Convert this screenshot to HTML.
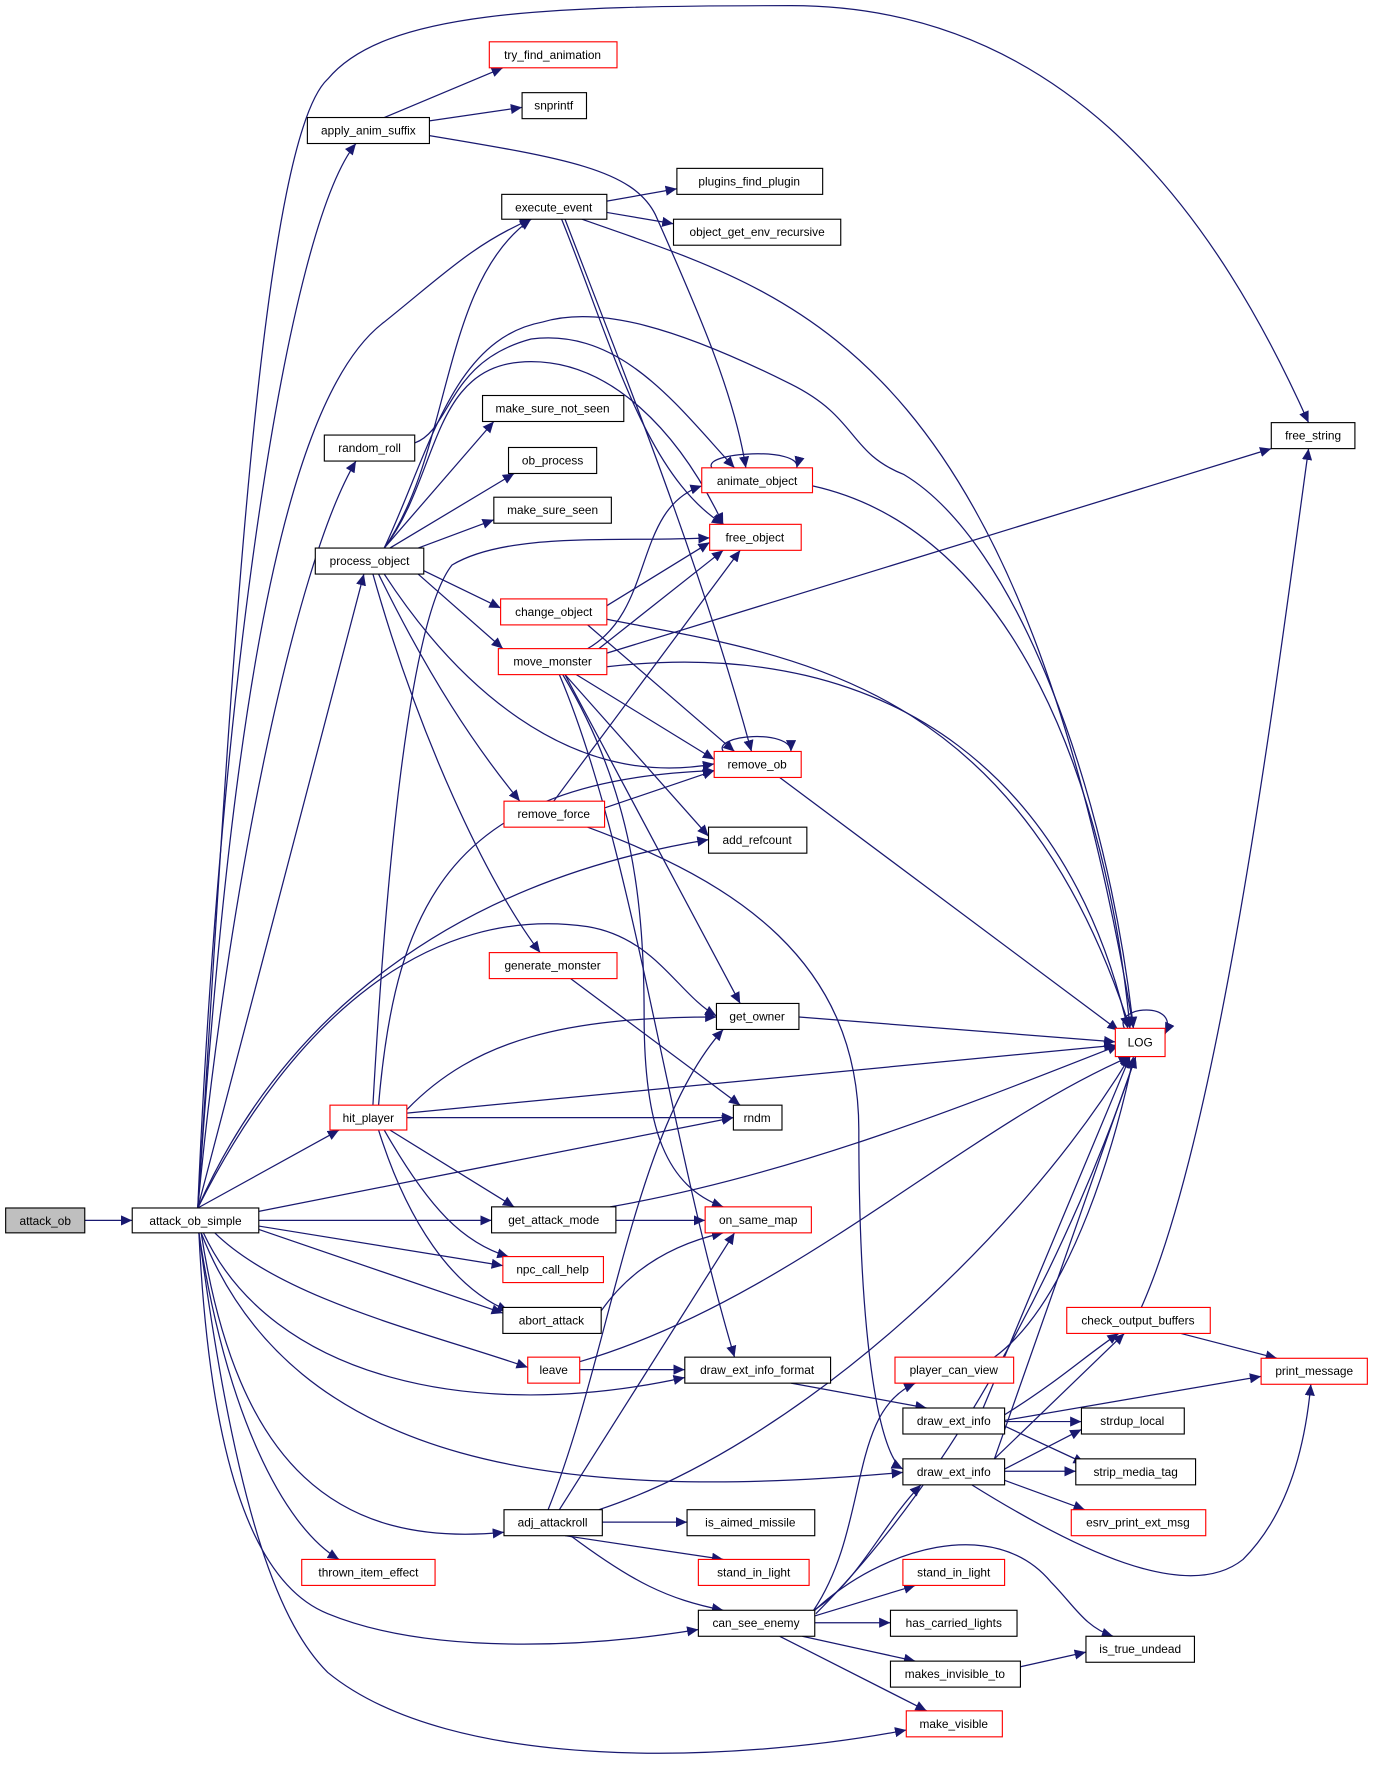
<!DOCTYPE html>
<html><head><meta charset="utf-8"><style>
html,body{margin:0;padding:0;background:#fff;}
svg{display:block;}
text{font-family:"Liberation Sans",Arial,sans-serif;font-size:10.5px;text-anchor:middle;fill:#000;}
.e{fill:none;stroke:#191970;stroke-width:1.1;marker-end:url(#a);}
.n{fill:#fff;stroke:#000;stroke-width:1;}
.r{fill:#fff;stroke:#ff0000;stroke-width:1;}
</style></head><body>
<svg width="1373" height="1773" viewBox="0 0 1215 1569" xmlns="http://www.w3.org/2000/svg">
<defs><marker id="a" markerUnits="userSpaceOnUse" markerWidth="11" markerHeight="9" refX="10" refY="4.5" orient="auto"><path d="M0,0 L10,4.5 L0,9 Z" fill="#191970"/></marker></defs>
<g>
<path class="e" d="M75,1080 L117,1080"/>
<path class="e" d="M175,1069 C200,700 225,130 290,70 C340,10 480,5 700,5 C950,5 1080,200 1158,374"/>
<path class="e" d="M175,1069 C195,600 255,200 315,127"/>
<path class="e" d="M175,1069 C200,700 240,360 340,285 C390,245 420,215 470,194"/>
<path class="e" d="M175,1069 C200,800 260,500 315,408"/>
<path class="e" d="M175,1069 L322,508"/>
<path class="e" d="M175,1069 C250,900 400,780 627,743"/>
<path class="e" d="M175,1069 C260,900 380,800 520,820 C580,830 600,880 634,899"/>
<path class="e" d="M175,1069 L300,1000"/>
<path class="e" d="M229,1072 L649,989"/>
<path class="e" d="M229,1080 L435,1080"/>
<path class="e" d="M229,1085 L445,1120"/>
<path class="e" d="M229,1088 L445,1162"/>
<path class="e" d="M190,1091 C250,1150 380,1180 467,1210"/>
<path class="e" d="M180,1091 C240,1220 420,1260 606,1219"/>
<path class="e" d="M178,1091 C260,1300 500,1330 799,1303"/>
<path class="e" d="M178,1091 C210,1300 300,1370 446,1356"/>
<path class="e" d="M176,1091 C200,1250 250,1350 300,1380"/>
<path class="e" d="M176,1091 C185,1280 220,1400 290,1428 C380,1465 520,1458 618,1442"/>
<path class="e" d="M176,1091 C210,1350 250,1440 290,1480 C400,1570 650,1560 802,1531"/>
<path class="e" d="M340,104 L445,60"/>
<path class="e" d="M380,107 L462,95"/>
<path class="e" d="M380,120 C500,140 560,150 580,190 C620,280 650,350 660,414"/>
<path class="e" d="M537,178 L599,167"/>
<path class="e" d="M537,188 L596,198"/>
<path class="e" d="M515,194 C700,260 900,300 1003,910"/>
<path class="e" d="M497,194 C540,300 570,420 640,464"/>
<path class="e" d="M500,194 C560,350 620,500 665,665"/>
<path class="e" d="M367,392 C400,380 395,320 470,300 C550,290 600,360 650,414"/>
<path class="e" d="M340,485 C400,400 390,250 470,194"/>
<path class="e" d="M340,485 C380,400 400,300 480,285 C530,270 600,290 700,340 C760,370 750,400 800,420 C900,480 980,700 1003,910"/>
<path class="e" d="M340,485 C390,420 380,320 470,320 C540,320 600,380 640,464"/>
<path class="e" d="M340,485 L437,373"/>
<path class="e" d="M345,485 L455,419"/>
<path class="e" d="M370,485 L437,460"/>
<path class="e" d="M375,505 L443,538"/>
<path class="e" d="M370,508 L445,574"/>
<path class="e" d="M340,508 C400,600 500,700 632,676"/>
<path class="e" d="M335,508 C380,600 420,660 460,709"/>
<path class="e" d="M330,508 C370,650 430,780 478,843"/>
<path class="e" d="M537,536 L628,480"/>
<path class="e" d="M520,553 L650,665"/>
<path class="e" d="M537,548 C700,580 900,600 1000,910"/>
<path class="e" d="M520,574 C580,540 560,450 621,430"/>
<path class="e" d="M530,574 L640,487"/>
<path class="e" d="M537,578 L1125,397"/>
<path class="e" d="M537,590 C800,560 950,700 998,910"/>
<path class="e" d="M510,597 L632,672"/>
<path class="e" d="M500,597 L627,740"/>
<path class="e" d="M500,597 L655,888"/>
<path class="e" d="M498,597 C560,700 570,800 570,900 C570,1000 590,1050 640,1068"/>
<path class="e" d="M495,597 C560,750 590,1000 650,1201"/>
<path class="e" d="M490,709 L655,487"/>
<path class="e" d="M535,715 L632,682"/>
<path class="e" d="M520,732 C650,780 760,850 760,1000 C760,1200 780,1290 799,1300"/>
<path class="e" d="M640,665 C630,650 700,645 700,665"/>
<path class="e" d="M690,688 L990,912"/>
<path class="e" d="M630,414 C620,400 710,395 705,414"/>
<path class="e" d="M719,430 C900,470 980,700 1000,910"/>
<path class="e" d="M505,866 L655,978"/>
<path class="e" d="M707,900 L987,922"/>
<path class="e" d="M330,978 C340,800 360,550 400,500 C450,470 550,480 628,476"/>
<path class="e" d="M335,978 C350,800 400,690 632,682"/>
<path class="e" d="M360,982 C420,920 500,900 634,900"/>
<path class="e" d="M360,985 L987,925"/>
<path class="e" d="M360,989 L649,989"/>
<path class="e" d="M345,1000 L455,1068"/>
<path class="e" d="M340,1000 C380,1070 410,1100 450,1112"/>
<path class="e" d="M335,1000 C360,1080 400,1140 450,1160"/>
<path class="e" d="M545,1080 L624,1080"/>
<path class="e" d="M540,1068 C700,1040 850,980 990,925"/>
<path class="e" d="M532,1160 C560,1120 600,1100 640,1091"/>
<path class="e" d="M513,1212 L606,1212"/>
<path class="e" d="M513,1205 C700,1150 850,1000 1000,935"/>
<path class="e" d="M700,1224 L820,1246"/>
<path class="e" d="M880,1201 C950,1150 990,1000 1003,935"/>
<path class="e" d="M889,1252 C940,1220 960,1200 990,1180"/>
<path class="e" d="M889,1257 L1116,1218"/>
<path class="e" d="M889,1258 L957,1258"/>
<path class="e" d="M870,1246 L1000,935"/>
<path class="e" d="M889,1262 L960,1295"/>
<path class="e" d="M880,1291 L1005,935"/>
<path class="e" d="M880,1291 L995,1180"/>
<path class="e" d="M889,1300 L957,1265"/>
<path class="e" d="M889,1302 L952,1302"/>
<path class="e" d="M889,1310 L960,1336"/>
<path class="e" d="M860,1314 C950,1370 1050,1420 1100,1380 C1140,1340 1155,1280 1160,1225"/>
<path class="e" d="M1010,1157 C1080,1000 1130,600 1158,397"/>
<path class="e" d="M1045,1180 L1130,1202"/>
<path class="e" d="M485,1336 C540,1200 560,1000 640,911"/>
<path class="e" d="M495,1336 L650,1091"/>
<path class="e" d="M530,1336 C700,1280 900,1100 1000,935"/>
<path class="e" d="M533,1347 L608,1347"/>
<path class="e" d="M500,1359 L640,1380"/>
<path class="e" d="M505,1359 C560,1400 590,1415 640,1425"/>
<path class="e" d="M720,1425 C760,1400 780,1350 815,1314"/>
<path class="e" d="M720,1425 C770,1350 750,1250 810,1224"/>
<path class="e" d="M722,1428 C850,1300 950,1100 1005,935"/>
<path class="e" d="M721,1430 L810,1403"/>
<path class="e" d="M721,1436 L788,1436"/>
<path class="e" d="M710,1448 L810,1470"/>
<path class="e" d="M690,1448 L820,1514"/>
<path class="e" d="M721,1425 C780,1370 880,1340 930,1400 C950,1420 960,1440 985,1448"/>
<path class="e" d="M903,1475 L961,1462"/>
<path class="e" d="M995,910 C985,890 1045,885 1031,915"/>
</g>
<g>
<rect x="5" y="1069" width="70" height="22" fill="#bfbfbf" stroke="#000"/><text x="40" y="1084">attack_ob</text>
<rect class="n" x="117" y="1069" width="112" height="22"/><text x="173" y="1084">attack_ob_simple</text>
<rect class="r" x="433" y="37" width="113" height="23"/><text x="489" y="52">try_find_animation</text>
<rect class="n" x="462" y="82" width="57" height="23"/><text x="490" y="97">snprintf</text>
<rect class="n" x="272" y="104" width="108" height="23"/><text x="326" y="119">apply_anim_suffix</text>
<rect class="n" x="599" y="149" width="129" height="23"/><text x="663" y="164">plugins_find_plugin</text>
<rect class="n" x="444" y="172" width="93" height="22"/><text x="490" y="187">execute_event</text>
<rect class="n" x="596" y="194" width="148" height="23"/><text x="670" y="209">object_get_env_recursive</text>
<rect class="n" x="427" y="350" width="125" height="23"/><text x="489" y="365">make_sure_not_seen</text>
<rect class="n" x="287" y="385" width="80" height="23"/><text x="327" y="400">random_roll</text>
<rect class="n" x="450" y="396" width="78" height="23"/><text x="489" y="411">ob_process</text>
<rect class="n" x="1125" y="374" width="74" height="23"/><text x="1162" y="389">free_string</text>
<rect class="r" x="621" y="414" width="98" height="22"/><text x="670" y="429">animate_object</text>
<rect class="n" x="437" y="440" width="104" height="23"/><text x="489" y="455">make_sure_seen</text>
<rect class="r" x="628" y="464" width="81" height="23"/><text x="668" y="479">free_object</text>
<rect class="n" x="279" y="485" width="96" height="23"/><text x="327" y="500">process_object</text>
<rect class="r" x="443" y="530" width="94" height="23"/><text x="490" y="545">change_object</text>
<rect class="r" x="441" y="574" width="96" height="23"/><text x="489" y="589">move_monster</text>
<rect class="r" x="632" y="665" width="77" height="23"/><text x="670" y="680">remove_ob</text>
<rect class="r" x="446" y="709" width="89" height="23"/><text x="490" y="724">remove_force</text>
<rect class="n" x="627" y="732" width="87" height="23"/><text x="670" y="747">add_refcount</text>
<rect class="r" x="433" y="843" width="113" height="23"/><text x="489" y="858">generate_monster</text>
<rect class="n" x="634" y="888" width="73" height="23"/><text x="670" y="903">get_owner</text>
<rect class="r" x="987" y="910" width="44" height="25"/><text x="1009" y="926">LOG</text>
<rect class="r" x="292" y="978" width="68" height="22"/><text x="326" y="993">hit_player</text>
<rect class="n" x="649" y="978" width="43" height="22"/><text x="670" y="993">rndm</text>
<rect class="n" x="435" y="1068" width="110" height="23"/><text x="490" y="1083">get_attack_mode</text>
<rect class="r" x="624" y="1068" width="94" height="23"/><text x="671" y="1083">on_same_map</text>
<rect class="r" x="445" y="1112" width="89" height="23"/><text x="489" y="1127">npc_call_help</text>
<rect class="n" x="445" y="1157" width="87" height="23"/><text x="488" y="1172">abort_attack</text>
<rect class="r" x="944" y="1157" width="127" height="23"/><text x="1007" y="1172">check_output_buffers</text>
<rect class="r" x="467" y="1201" width="46" height="23"/><text x="490" y="1216">leave</text>
<rect class="n" x="606" y="1201" width="129" height="23"/><text x="670" y="1216">draw_ext_info_format</text>
<rect class="r" x="792" y="1201" width="105" height="23"/><text x="844" y="1216">player_can_view</text>
<rect class="r" x="1116" y="1202" width="94" height="23"/><text x="1163" y="1217">print_message</text>
<rect class="n" x="799" y="1246" width="90" height="23"/><text x="844" y="1261">draw_ext_info</text>
<rect class="n" x="957" y="1246" width="91" height="23"/><text x="1002" y="1261">strdup_local</text>
<rect class="n" x="799" y="1291" width="90" height="23"/><text x="844" y="1306">draw_ext_info</text>
<rect class="n" x="952" y="1291" width="106" height="23"/><text x="1005" y="1306">strip_media_tag</text>
<rect class="n" x="446" y="1336" width="87" height="23"/><text x="489" y="1351">adj_attackroll</text>
<rect class="n" x="608" y="1336" width="113" height="23"/><text x="664" y="1351">is_aimed_missile</text>
<rect class="r" x="948" y="1336" width="119" height="23"/><text x="1007" y="1351">esrv_print_ext_msg</text>
<rect class="r" x="267" y="1380" width="118" height="23"/><text x="326" y="1395">thrown_item_effect</text>
<rect class="r" x="618" y="1380" width="98" height="23"/><text x="667" y="1395">stand_in_light</text>
<rect class="r" x="799" y="1380" width="90" height="23"/><text x="844" y="1395">stand_in_light</text>
<rect class="n" x="618" y="1425" width="103" height="23"/><text x="669" y="1440">can_see_enemy</text>
<rect class="n" x="788" y="1425" width="112" height="23"/><text x="844" y="1440">has_carried_lights</text>
<rect class="n" x="961" y="1448" width="96" height="23"/><text x="1009" y="1463">is_true_undead</text>
<rect class="n" x="788" y="1470" width="115" height="23"/><text x="845" y="1485">makes_invisible_to</text>
<rect class="r" x="802" y="1514" width="85" height="23"/><text x="844" y="1529">make_visible</text>
</g>
</svg>
</body></html>
